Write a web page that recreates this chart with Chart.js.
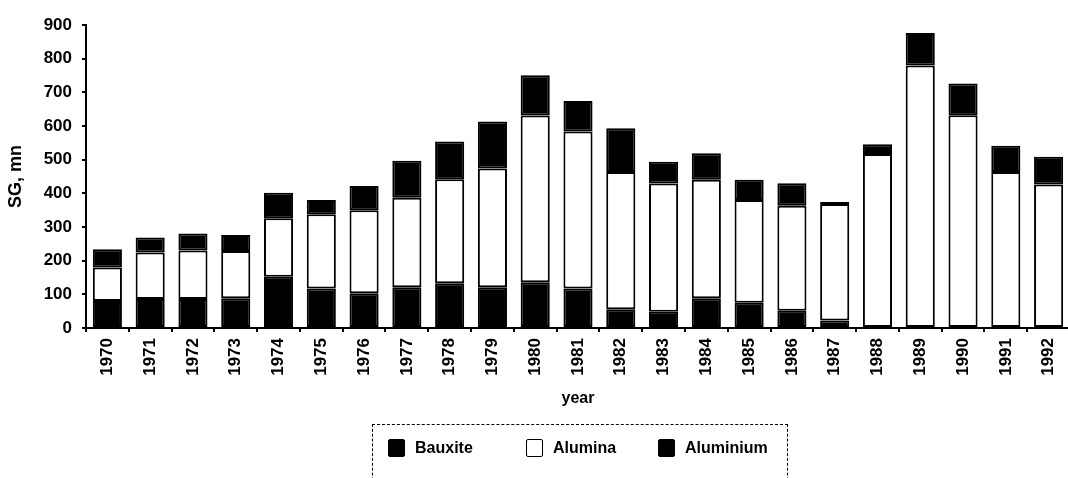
<!DOCTYPE html>
<html>
<head>
<meta charset="utf-8">
<script src="https://cdn.jsdelivr.net/npm/chart.js@4"></script>
<style>
  body { margin: 0; background: #fff; }
  #wrap { position: relative; width: 1068px; height: 478px; overflow: hidden; }
  /* plot is a little wider than the page: the last bar is cut off in the scan */
  #plot { position: absolute; left: 0; top: 0; width: 1075px; height: 478px; }
  #legend {
    position: absolute; left: 372px; top: 424px; width: 414px; height: 70px;
    border: 1.5px dashed #000; border-bottom: none;
    font-family: "Liberation Sans", Arial, sans-serif; font-weight: bold; font-size: 16px; color: #000;
  }
  .item { position: absolute; top: 14px; display: flex; align-items: center; }
  .box { width: 17px; height: 18px; border: 1.5px solid #000; box-sizing: border-box; margin-right: 10px; border-radius: 2px; }
</style>
</head>
<body>
<div id="wrap">
  <div id="plot"><canvas id="chart"></canvas></div>
  <div id="legend"></div>
</div>
<script>
// chart values (SG, mn)
const years = ['1970','1971','1972','1973','1974','1975','1976','1977','1978','1979','1980','1981',
               '1982','1983','1984','1985','1986','1987','1988','1989','1990','1991','1992'];
const bauxite   = [80, 86, 86, 88, 152, 117, 103, 121, 133, 121, 136, 117, 56, 48, 88, 75, 51, 22, 0, 0, 0, 0, 0];
const alumina   = [100, 138, 144, 141, 174, 221, 247, 266, 309, 353, 495, 467, 407, 381, 352, 305, 312, 346, 517, 780, 632, 463, 426];
const aluminium = [54, 45, 51, 47, 76, 42, 72, 110, 112, 139, 120, 90, 130, 65, 79, 60, 67, 6, 29, 96, 94, 78, 83];
const yTicks = [0, 100, 200, 300, 400, 500, 600, 700, 800, 900];

const tickFont = { family: '"Liberation Sans", Arial, sans-serif', weight: 'bold', size: 17 };

// one dataset per product, stacked
function makeSet(label, data, fill) {
    return {
        label: label,
        data: data,
        backgroundColor: fill,
        borderColor: '#000',
        // no outline on empty segments, otherwise a stray line shows on the axis
        borderWidth: function (c) { return c.raw ? 2 : 0; },
        borderSkipped: function (c) { return c.raw ? false : true; },
        barPercentage: 0.68,
        categoryPercentage: 1.0
    };
}

const ctx = document.getElementById('chart').getContext('2d');
const chart = new Chart(ctx, {
    type: 'bar',
    data: {
        labels: years,
        datasets: [
            makeSet('Bauxite', bauxite, '#000'),
            makeSet('Alumina', alumina, '#fff'),
            makeSet('Aluminium', aluminium, '#000')
        ]
    },
    options: {
        responsive: true,
        maintainAspectRatio: false,
        animation: false,
        layout: { padding: { top: 25, right: 0, bottom: 70, left: 0 } },
        plugins: {
            legend: { display: false },
            tooltip: { enabled: false }
        },
        scales: {
            x: {
                stacked: true,
                border: { color: '#000', width: 2 },
                grid: { display: true, drawOnChartArea: false, color: '#000', lineWidth: 2, tickLength: 4, offset: true },
                ticks: { color: '#000', font: tickFont, minRotation: 90, maxRotation: 90, padding: 6, autoSkip: false },
                title: { display: true, text: 'year', color: '#000', padding: 0,
                         font: { family: '"Liberation Sans", Arial, sans-serif', weight: 'bold', size: 16 } },
                afterFit: function (scale) { scale.height = 80; }
            },
            y: {
                stacked: true,
                min: 0,
                max: 900,
                border: { color: '#000', width: 2 },
                grid: { display: true, drawOnChartArea: false, color: '#000', lineWidth: 2, tickLength: 4 },
                afterBuildTicks: function (scale) {
                    scale.ticks = yTicks.map(function (v) { return { value: v }; });
                },
                ticks: { color: '#000', font: tickFont, padding: 10 },
                title: { display: true, text: 'SG, mn', color: '#000', padding: { top: 5, bottom: 0 },
                         font: { family: '"Liberation Sans", Arial, sans-serif', weight: 'bold', size: 18 } },
                afterFit: function (scale) { scale.width = 86; }
            }
        }
    }
});

// html legend in a dashed box, like the original figure
const lefts = [15, 153, 285];
const legend = document.getElementById('legend');
chart.data.datasets.forEach(function (ds, i) {
    const item = document.createElement('div');
    item.className = 'item';
    item.style.left = lefts[i] + 'px';
    const box = document.createElement('span');
    box.className = 'box';
    box.style.background = ds.backgroundColor;
    const txt = document.createElement('span');
    txt.textContent = ds.label;
    item.appendChild(box);
    item.appendChild(txt);
    legend.appendChild(item);
});
</script>
</body>
</html>
